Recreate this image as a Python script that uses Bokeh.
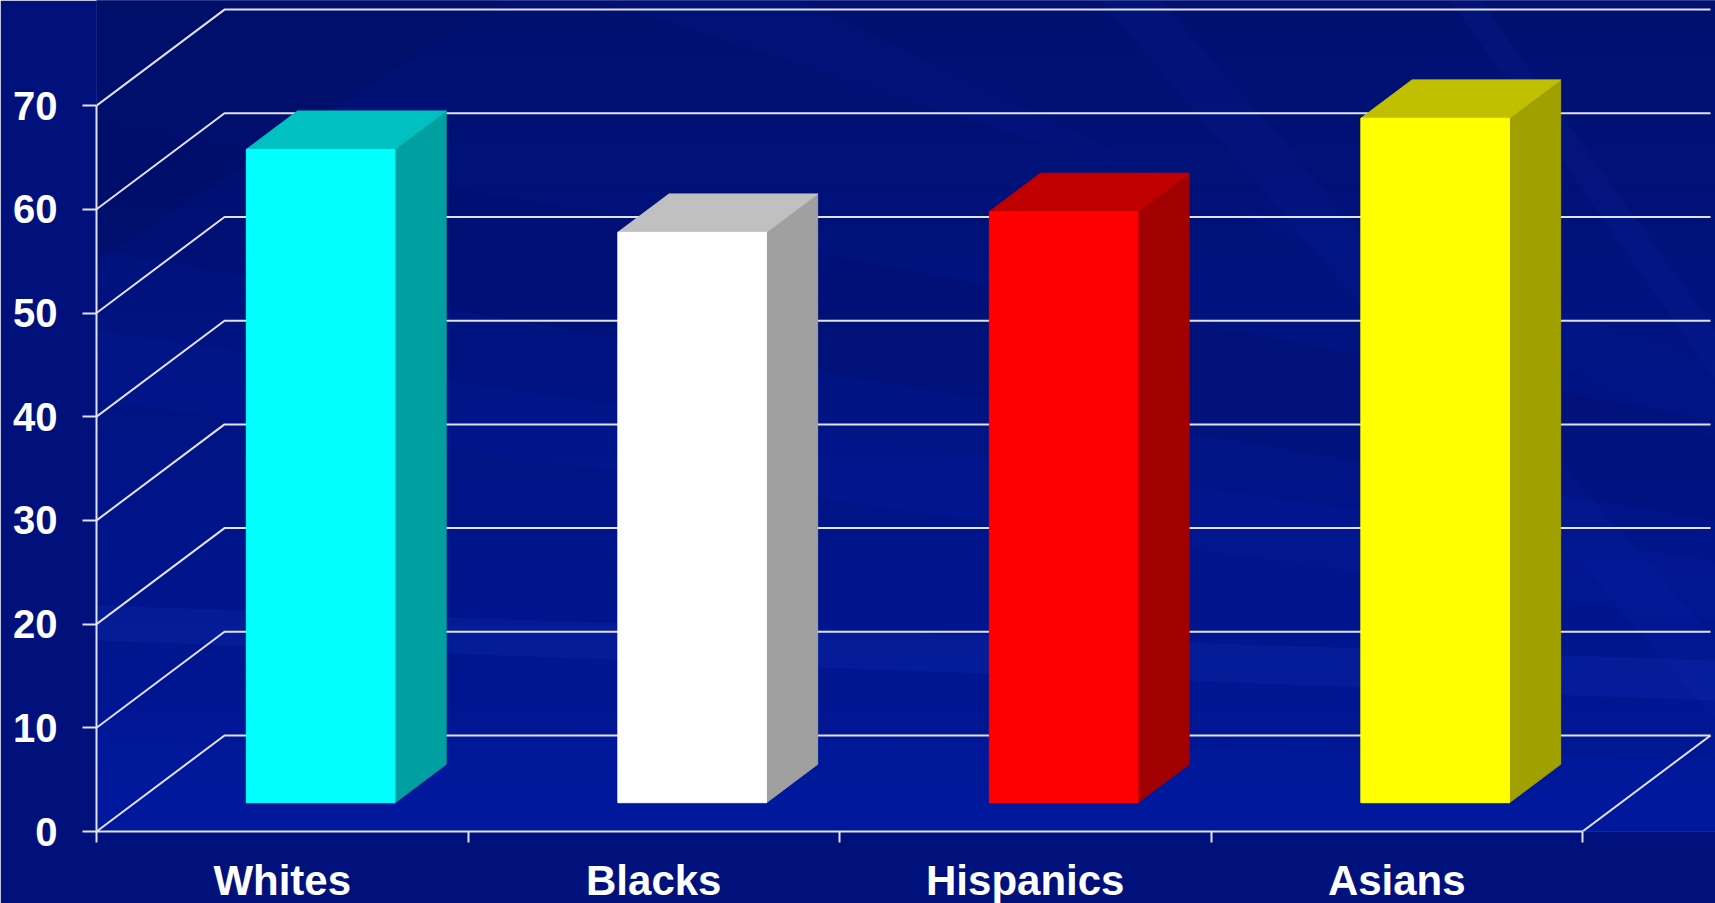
from bokeh.plotting import figure
from bokeh.models import Range1d, FixedTicker, LinearAxis
from bokeh.embed import file_html
from bokeh.resources import INLINE
import numpy as np

# ---------------- data ----------------
categories = ["Whites", "Blacks", "Hispanics", "Asians"]
values = [63, 55, 57, 66]
y_ticks = [0, 10, 20, 30, 40, 50, 60, 70]
front_colors = ["#00FFFF", "#FFFFFF", "#FF0000", "#FFFF00"]
top_colors = ["#00C0C0", "#C0C0C0", "#C00000", "#C0C000"]
side_colors = ["#00A0A0", "#A0A0A0", "#A00000", "#A0A000"]

# ---------------- geometry / style ----------------
PX_X = 371.5          # pixels per category
PX_Y = 10.37          # pixels per value unit
FRAME_W = 1619
FRAME_H = 831
DEPTH_X = 128 / PX_X  # oblique depth offset (data units)
DEPTH_Y = 96 / PX_Y
BAR_L, BAR_R = 0.3, 0.7
D1, D2 = 0.3, 0.7
YMAX = 70
N = len(categories)
LINE = "#e2e2ee"
FONT = "Liberation Sans"
XMAX = FRAME_W / PX_X
YTOP = FRAME_H / PX_Y

p = figure(frame_width=FRAME_W, frame_height=FRAME_H,
           x_range=Range1d(0, XMAX), y_range=Range1d(0, YTOP),
           output_backend="svg", toolbar_location=None,
           x_axis_location=None, y_axis_location=None,
           min_border_left=96, min_border_bottom=72,
           min_border_top=0, min_border_right=0)
p.grid.visible = False
p.outline_line_color = None
p.background_fill_color = "#001488"
p.border_fill_color = "#00117c"

# ---------------- decorative background ----------------
def px(xp, yp):
    return [(x - 96) / PX_X for x in xp], [(831 - y) / PX_Y for y in yp]

top_c = np.array([0x00, 0x10, 0x70])
bot_c = np.array([0x00, 0x18, 0x98])
nstrip = 40
edges = np.linspace(YTOP, 0, nstrip + 1)
cols = []
for k in range(nstrip):
    t = k / (nstrip - 1)
    c = (top_c * (1 - t) + bot_c * t).astype(int)
    cols.append("#%02x%02x%02x" % tuple(c))
p.quad(left=0, right=XMAX, top=edges[:-1], bottom=edges[1:],
       fill_color=cols, line_color=cols, line_width=1)

bands = [
    # (xs_px, ys_px, color, alpha)
    ([96, 500, 96], [0, 0, 260], "#000a55", 0.25),
    ([96, 1715, 1715, 96], [120, 420, 520, 250], "#000c60", 0.20),
    ([96, 1715, 1715, 96], [330, 560, 620, 400], "#0c28c0", 0.10),
    ([600, 1715, 1715, 800], [0, 360, 440, 0], "#0a24b8", 0.07),
    ([1100, 1160, 1715, 1715], [0, 0, 640, 720], "#1a3ad0", 0.07),
    ([1450, 1480, 1715, 1715], [0, 0, 330, 380], "#2040d8", 0.08),
    ([96, 1715, 1715, 96], [605, 660, 700, 640], "#2a4ae0", 0.12),
    ([96, 1715, 1715, 96], [720, 760, 831, 831], "#0020b0", 0.20),
]
for xp, yp, c, a in bands:
    xs, ys = px(xp, yp)
    p.patch(xs, ys, fill_color=c, fill_alpha=a, line_color=None)

# ---------------- walls / grid ----------------
gx = [[0, DEPTH_X, N + DEPTH_X] for v in y_ticks]
gy = [[v, v + DEPTH_Y, v + DEPTH_Y] for v in y_ticks]
p.multi_line(gx, gy, line_color=LINE, line_width=2)
p.line([N, N + DEPTH_X], [0, DEPTH_Y], line_color=LINE, line_width=2)

# ---------------- 3D bars ----------------
ox1, oy1 = D1 * DEPTH_X, D1 * DEPTH_Y
ox2, oy2 = D2 * DEPTH_X, D2 * DEPTH_Y
fx, fy, tx, ty, sx, sy = [], [], [], [], [], []
for i, v in enumerate(values):
    x0, x1 = i + BAR_L, i + BAR_R
    fx.append([x0 + ox1, x1 + ox1, x1 + ox1, x0 + ox1])
    fy.append([oy1, oy1, v + oy1, v + oy1])
    tx.append([x0 + ox1, x1 + ox1, x1 + ox2, x0 + ox2])
    ty.append([v + oy1, v + oy1, v + oy2, v + oy2])
    sx.append([x1 + ox1, x1 + ox2, x1 + ox2, x1 + ox1])
    sy.append([oy1, oy2, v + oy2, v + oy1])
p.patches(sx, sy, fill_color=side_colors, line_color=side_colors, line_width=1)
p.patches(tx, ty, fill_color=top_colors, line_color=top_colors, line_width=1)
p.patches(fx, fy, fill_color=front_colors, line_color=front_colors, line_width=1)

# ---------------- axes ----------------
yax = LinearAxis(ticker=FixedTicker(ticks=y_ticks), bounds=(0, YMAX))
yax.axis_line_color = LINE
yax.axis_line_width = 2
yax.major_tick_line_color = LINE
yax.major_tick_line_width = 2
yax.major_tick_out = 14
yax.major_tick_in = 0
yax.minor_tick_line_color = None
yax.major_label_text_font = FONT
yax.major_label_text_font_style = "bold"
yax.major_label_text_font_size = "40px"
yax.major_label_text_color = "white"
yax.major_label_standoff = 25
p.add_layout(yax, "left")

xax = LinearAxis(ticker=FixedTicker(ticks=[i + 0.5 for i in range(N)],
                                    minor_ticks=list(range(N + 1))),
                 bounds=(0, N))
xax.major_label_overrides = {i + 0.5: c for i, c in enumerate(categories)}
xax.axis_line_color = LINE
xax.axis_line_width = 2
xax.major_tick_line_color = None
xax.major_tick_out = 0
xax.major_tick_in = 0
xax.minor_tick_line_color = LINE
xax.minor_tick_line_width = 2
xax.minor_tick_out = 11
xax.minor_tick_in = 0
xax.major_label_text_font = FONT
xax.major_label_text_font_style = "bold"
xax.major_label_text_font_size = "42px"
xax.major_label_text_color = "white"
xax.major_label_standoff = 14
p.add_layout(xax, "below")

open("out.html", "w").write(file_html(p, INLINE))
